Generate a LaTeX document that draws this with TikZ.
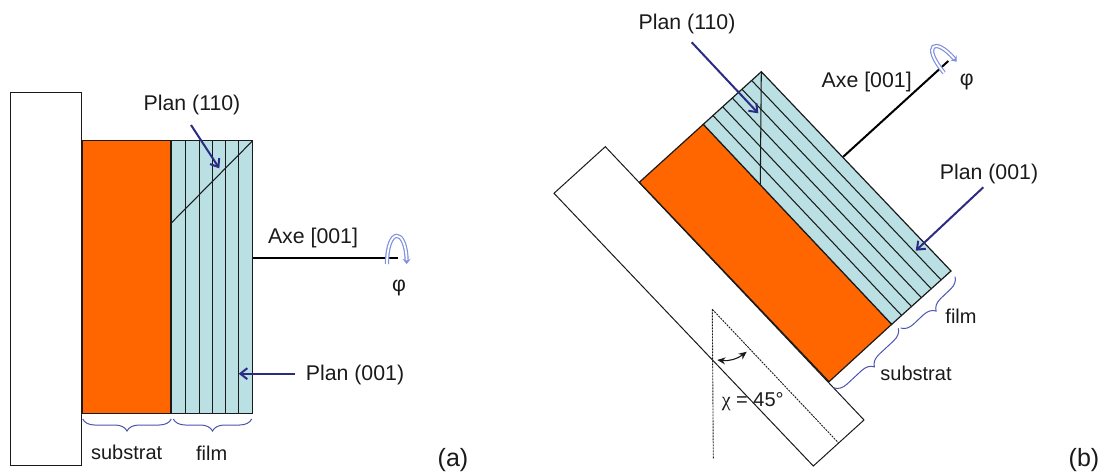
\documentclass[tikz,border=0pt]{standalone}
\usepackage{fontspec}
\setmainfont{Liberation Sans}
\newfontfamily\symbfont{Liberation Serif}
\usetikzlibrary{arrows.meta,calc,decorations.pathreplacing}
\definecolor{plInk}{HTML}{1A1A1A}
\definecolor{plOrange}{HTML}{FF6600}
\definecolor{plFilm}{HTML}{BAE0E4}
\definecolor{plNavy}{HTML}{2B2B85}
\definecolor{plBrace}{HTML}{4C56AE}
\definecolor{plRot}{HTML}{7F90DE}
\tikzset{
  holder/.style   ={draw=plInk,line width=1pt,fill=white},
  substrate/.style={draw=plInk,line width=1.2pt,fill=plOrange},
  film/.style     ={draw=plInk,line width=1.2pt,fill=plFilm},
  plane/.style    ={plInk,line width=1.05pt},
  axisline/.style ={black,line width=2pt},
  pointer/.style  ={-{Straight Barb[length=7pt,width=11pt]},plNavy,line width=2pt},
  rotarrow/.style ={-{Stealth[length=5pt,width=8pt]},plRot,line width=1.2pt,double=white,double distance=1.8pt},
  bracket/.style  ={plBrace,line width=1pt,decorate,decoration={brace,amplitude=12pt}},
  guide/.style    ={plInk,line width=0.9pt,dash pattern=on 2pt off 1pt},
  angarrow/.style ={{Stealth[length=8pt,width=7pt]}-{Stealth[length=8pt,width=7pt]},plInk,line width=1.1pt},
  lbl/.style      ={font=\fontsize{20}{24}\selectfont,text=plInk,inner sep=0pt},
  planlbl/.style  ={font=\fontsize{21.3}{25}\selectfont,text=plInk,inner sep=0pt},
  tag/.style      ={font=\fontsize{25}{30}\selectfont,text=plInk,inner sep=0pt},
}
\begin{document}
\begin{tikzpicture}[x=1pt,y=-1pt]
\useasboundingbox (0,0) rectangle (1108,473);

% panel (a)
\draw[holder] (10.5,92.7) rectangle (81.7,465);
\coordinate (aTL) at (82.5,140.7);
\coordinate (aTM) at (171,140.7);
\coordinate (aTR) at (252.7,140.7);
\coordinate (aBL) at (82.5,413.3);
\coordinate (aBM) at (171,413.3);
\coordinate (aBR) at (252.7,413.3);
\draw[substrate] (aTL) rectangle (aBM);
\draw[film] (aTM) rectangle (aBR);
\foreach \x in {185.7,199.5,212.5,225.5,238.5}
  \draw[plane] (\x,140.7) -- (\x,413.3);
\coordinate (aDiag) at (171,223.3);
\draw[plane] (aDiag) -- (aTR);

\node[planlbl] (aPlanB) at (192,105) {Plan (110)};
\coordinate (aPlanBs) at (191,125);
\coordinate (aPlanBe) at (219.3,168.3);
\draw[pointer] (aPlanBs) -- (aPlanBe);
\node[planlbl] (aPlanA) at (355,375) {Plan (001)};
\coordinate (aPlanAs) at (295,373.7);
\coordinate (aPlanAe) at (238.7,373.7);
\draw[pointer] (aPlanAs) -- (aPlanAe);

\coordinate (aAxisS) at (252.7,257.7);
\coordinate (aAxisE) at (398,257.7);
\draw[axisline] (aAxisS) -- (aAxisE);
\node[planlbl] (aAxe) at (313,238) {Axe [001]};
\draw[rotarrow] (387,264) .. controls (387,227) and (406,227) .. (406.7,264);
\node[planlbl] (aPhi) at (399,288) {φ};

\coordinate (aBr1) at (171.3,419);
\coordinate (aBr2) at (82.7,419);
\coordinate (aBr3) at (251.7,419);
\coordinate (aBr4) at (173.3,419);
\draw[bracket] (aBr1) -- (aBr2);
\draw[bracket] (aBr3) -- (aBr4);
\node[lbl] (aSub) at (126.7,452.7) {substrat};
\node[lbl] (aFilm) at (211.7,453) {film};
\node[tag] (aTag) at (453,460) {(a)};

% panel (b)
\draw[holder] (605.3,146.7) -- (864,420) -- (813.3,466) -- (554,193.3) -- cycle;
\coordinate (bTL) at (639.3,182.3);
\coordinate (bTM) at (703.3,124.3);
\coordinate (bTR) at (761.3,71.7);
\coordinate (bBL) at (829,381.7);
\coordinate (bBM) at (891.7,324.3);
\coordinate (bBR) at (951,271);
\draw[substrate] (bTL) -- (bTM) -- (bBM) -- (bBL) -- cycle;
\draw[film] (bTM) -- (bTR) -- (bBR) -- (bBM) -- cycle;
\foreach \t in {1,...,5}
  \draw[plane] ($(bTM)!\t/6!(bTR)$) -- ($(bBM)!\t/6!(bBR)$);
\coordinate (bDiag) at (760.3,184.3);
\draw[plane] (bTR) -- (bDiag);

\node[planlbl] (bPlanB) at (687,24.3) {Plan (110)};
\coordinate (bPlanBs) at (691.7,42.3);
\coordinate (bPlanBe) at (758.3,113.3);
\draw[pointer] (bPlanBs) -- (bPlanBe);
\node[planlbl] (bPlanA) at (989,174) {Plan (001)};
\coordinate (bPlanAs) at (983.3,187.3);
\coordinate (bPlanAe) at (915.7,250.7);
\draw[pointer] (bPlanAs) -- (bPlanAe);

\coordinate (bAxisS) at (843.3,156.7);
\coordinate (bAxisE) at (948.3,61);
\draw[axisline] (bAxisS) -- (bAxisE);
\node[planlbl] (bAxe) at (866.7,82.3) {Axe [001]};
\draw[rotarrow] (944,72.7) .. controls (921,45) and (935,36) .. (956.7,61.7);
\node[planlbl] (bPhi) at (966.7,82.3) {φ};

\coordinate (bBr1) at (898.3,328.3);
\coordinate (bBr2) at (834,388);
\coordinate (bBr3) at (955,276.7);
\coordinate (bBr4) at (900.7,328);
\draw[bracket] (bBr1) -- (bBr2);
\draw[bracket] (bBr3) -- (bBr4);
\node[lbl] (bSub) at (916,373) {substrat};
\node[lbl] (bFilm) at (961,316) {film};

% angle
\coordinate (bApex) at (712.3,309.3);
\coordinate (bVert) at (713.3,458.3);
\coordinate (bSlope) at (838.3,442.7);
\draw[guide] (bApex) -- (bVert);
\draw[guide] (bApex) -- (bSlope);
\coordinate (bAng1) at (717.3,360);
\coordinate (bAng2) at (746.7,351.7);
\draw[angarrow] (bAng1) to[bend right=22] (bAng2);
\node[lbl] (bChi) at (752.7,401.7) {{\symbfont χ} = 45°};
\node[tag] (bTag) at (1084,460) {(b)};
\end{tikzpicture}
\end{document}
